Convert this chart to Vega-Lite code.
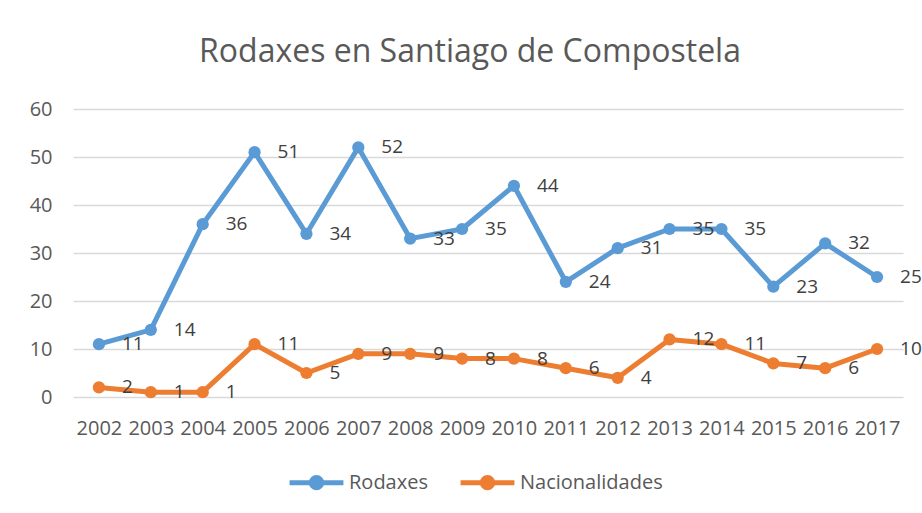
{
  "$schema": "https://vega.github.io/schema/vega-lite/v6.json",
  "width": 830,
  "height": 288,
  "autosize": {"type": "none"},
  "padding": {"left": 73, "top": 109, "right": 19, "bottom": 116},
  "background": "white",
  "title": {"text": "Rodaxes en Santiago de Compostela", "fontSize": 32, "font": "Open Sans", "fontWeight": "normal", "color": "#595959", "offset": 30, "dx": -18, "anchor": "middle"},
  "config": {"view": {"stroke": null}, "font": "Open Sans"},
  "data": {"values": [
    {"year": "2002", "serie": "Rodaxes", "value": 11},
    {"year": "2003", "serie": "Rodaxes", "value": 14},
    {"year": "2004", "serie": "Rodaxes", "value": 36},
    {"year": "2005", "serie": "Rodaxes", "value": 51},
    {"year": "2006", "serie": "Rodaxes", "value": 34},
    {"year": "2007", "serie": "Rodaxes", "value": 52},
    {"year": "2008", "serie": "Rodaxes", "value": 33},
    {"year": "2009", "serie": "Rodaxes", "value": 35},
    {"year": "2010", "serie": "Rodaxes", "value": 44},
    {"year": "2011", "serie": "Rodaxes", "value": 24},
    {"year": "2012", "serie": "Rodaxes", "value": 31},
    {"year": "2013", "serie": "Rodaxes", "value": 35},
    {"year": "2014", "serie": "Rodaxes", "value": 35},
    {"year": "2015", "serie": "Rodaxes", "value": 23},
    {"year": "2016", "serie": "Rodaxes", "value": 32},
    {"year": "2017", "serie": "Rodaxes", "value": 25},
    {"year": "2002", "serie": "Nacionalidades", "value": 2},
    {"year": "2003", "serie": "Nacionalidades", "value": 1},
    {"year": "2004", "serie": "Nacionalidades", "value": 1},
    {"year": "2005", "serie": "Nacionalidades", "value": 11},
    {"year": "2006", "serie": "Nacionalidades", "value": 5},
    {"year": "2007", "serie": "Nacionalidades", "value": 9},
    {"year": "2008", "serie": "Nacionalidades", "value": 9},
    {"year": "2009", "serie": "Nacionalidades", "value": 8},
    {"year": "2010", "serie": "Nacionalidades", "value": 8},
    {"year": "2011", "serie": "Nacionalidades", "value": 6},
    {"year": "2012", "serie": "Nacionalidades", "value": 4},
    {"year": "2013", "serie": "Nacionalidades", "value": 12},
    {"year": "2014", "serie": "Nacionalidades", "value": 11},
    {"year": "2015", "serie": "Nacionalidades", "value": 7},
    {"year": "2016", "serie": "Nacionalidades", "value": 6},
    {"year": "2017", "serie": "Nacionalidades", "value": 10}
  ]},
  "encoding": {
    "x": {"field": "year", "type": "ordinal", "scale": {"type": "point", "padding": 0.5},
      "axis": {"title": null, "labelAngle": 0, "ticks": false, "domain": false, "grid": false, "labelPadding": 21, "labelFontSize": 20, "labelColor": "#595959", "labelOverlap": false, "labelFont": "Open Sans"}},
    "y": {"field": "value", "type": "quantitative", "scale": {"domain": [0, 60]},
      "axis": {"title": null, "values": [0, 10, 20, 30, 40, 50, 60], "ticks": false, "domain": false, "grid": true, "gridColor": "#D9D9D9", "gridWidth": 1.5, "labelPadding": 21, "labelFontSize": 20, "labelColor": "#595959", "labelFont": "Open Sans"}},
    "color": {"field": "serie", "type": "nominal", "sort": ["Rodaxes", "Nacionalidades"],
      "scale": {"domain": ["Rodaxes", "Nacionalidades"], "range": ["#5B9BD5", "#ED7D31"]},
      "legend": {"title": null, "orient": "none", "direction": "horizontal", "legendX": 214, "legendY": 344,
        "symbolType": "M-1,0H1M0.19,0A0.19,0.19 0 1 1 -0.19,0A0.19,0.19 0 1 1 0.19,0",
        "symbolSize": 2900, "symbolStrokeWidth": 5, "labelFontSize": 20, "labelColor": "#595959", "labelFont": "Open Sans", "labelOffset": 3, "columnPadding": 22}}
  },
  "layer": [
    {"mark": {"type": "line", "strokeWidth": 5, "strokeJoin": "round", "strokeCap": "round"}},
    {"mark": {"type": "point", "filled": true, "size": 150, "opacity": 1}},
    {"mark": {"type": "text", "align": "left", "dx": 23, "baseline": "middle", "fontSize": 19, "font": "Open Sans"},
      "encoding": {"text": {"field": "value", "type": "quantitative"}, "color": {"value": "#404040"}}}
  ]
}
